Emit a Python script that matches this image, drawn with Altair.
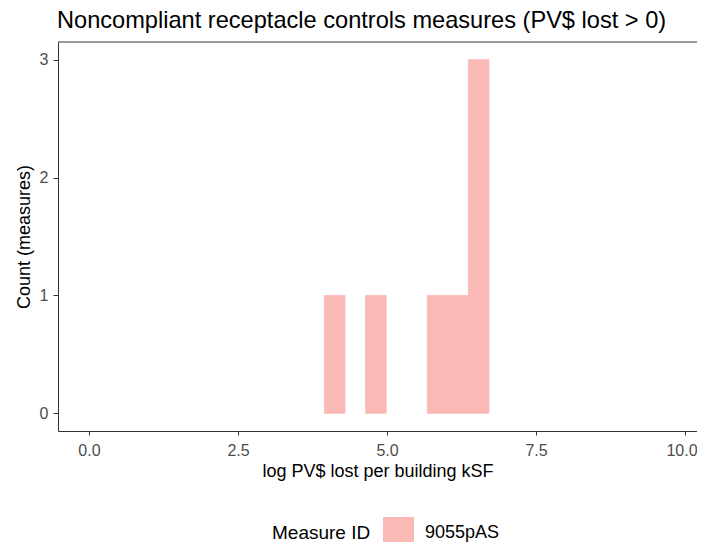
import altair as alt
import pandas as pd

# Histogram bins
bin_start = [3.95, 4.64, 5.675, 6.02, 6.365]
bin_end = [4.295, 4.985, 6.02, 6.365, 6.71]
counts = [1, 1, 1, 1, 3]
measure_ids = ["9055pAS"] * 5

x_ticks = [0.0, 2.5, 5.0, 7.5, 10.0]
y_ticks = [0, 1, 2, 3]

W, H = 639, 389
BAR_COLOR = "#FBB9B5"

df = pd.DataFrame({
    "start": bin_start,
    "end": bin_end,
    "count": counts,
    "zero": [0] * len(counts),
    "measure": measure_ids,
})

FONT = "Liberation Sans"

bars = alt.Chart(df).mark_rect(stroke=BAR_COLOR, strokeWidth=0.8).encode(
    x=alt.X("start:Q",
            scale=alt.Scale(domain=[-0.52, 10.2], nice=False, zero=False),
            axis=alt.Axis(values=x_ticks, format=".1f", title="log PV$ lost per building kSF",
                          grid=False, tickSize=4, labelPadding=7, titlePadding=4,
                          labelAlign={"condition": {"test": "datum.value >= 10", "value": "right"},
                                      "value": "center"},
                          labelOffset={"condition": {"test": "datum.value >= 10", "value": 12},
                                       "value": 0})),
    x2="end:Q",
    y=alt.Y("count:Q",
            scale=alt.Scale(domain=[-0.15, 3.15], nice=False, zero=False),
            axis=alt.Axis(values=y_ticks, format="d", title="Count (measures)",
                          grid=False, tickSize=5, labelPadding=5, titlePadding=6)),
    y2="zero:Q",
    color=alt.Color("measure:N",
                    scale=alt.Scale(range=[BAR_COLOR]),
                    legend=alt.Legend(title="Measure ID", orient="none",
                                      legendX=214, legendY=475,
                                      direction="horizontal", titleOrient="left",
                                      symbolType="square", symbolSize=961,
                                      symbolStrokeWidth=0, symbolOpacity=1,
                                      titleFontSize=19, labelFontSize=18,
                                      titleFont=FONT, labelFont=FONT,
                                      titleFontWeight="normal", titleColor="#000000",
                                      labelColor="#000000", titlePadding=12,
                                      labelOffset=11, titleBaseline="middle")),
)

top_border = alt.Chart(pd.DataFrame({"v": [0]})).mark_rule(color="#333333", strokeWidth=1).encode(
    x=alt.value(0), x2=alt.value(W), y=alt.value(0)
)

chart = alt.layer(bars, top_border).properties(
    width=W,
    height=H,
    autosize=alt.AutoSizeParams(type="none"),
    padding={"left": 50, "top": 34, "right": 0, "bottom": 111},
    title=alt.TitleParams("Noncompliant receptacle controls measures (PV$ lost > 0)",
                          anchor="start", frame="group", fontSize=23.6, font=FONT,
                          fontWeight="normal", color="#000000", offset=9, dx=-1),
).configure_view(stroke=None).configure_axis(
    labelFont=FONT, titleFont=FONT, labelFontSize=16, titleFontSize=18,
    labelColor="#4D4D4D", titleColor="#000000", titleFontWeight="normal",
    domainColor="#333333", tickColor="#333333", domainWidth=1, tickWidth=1,
)

chart.save("out.html", embed_options={"renderer": "svg", "actions": False})
